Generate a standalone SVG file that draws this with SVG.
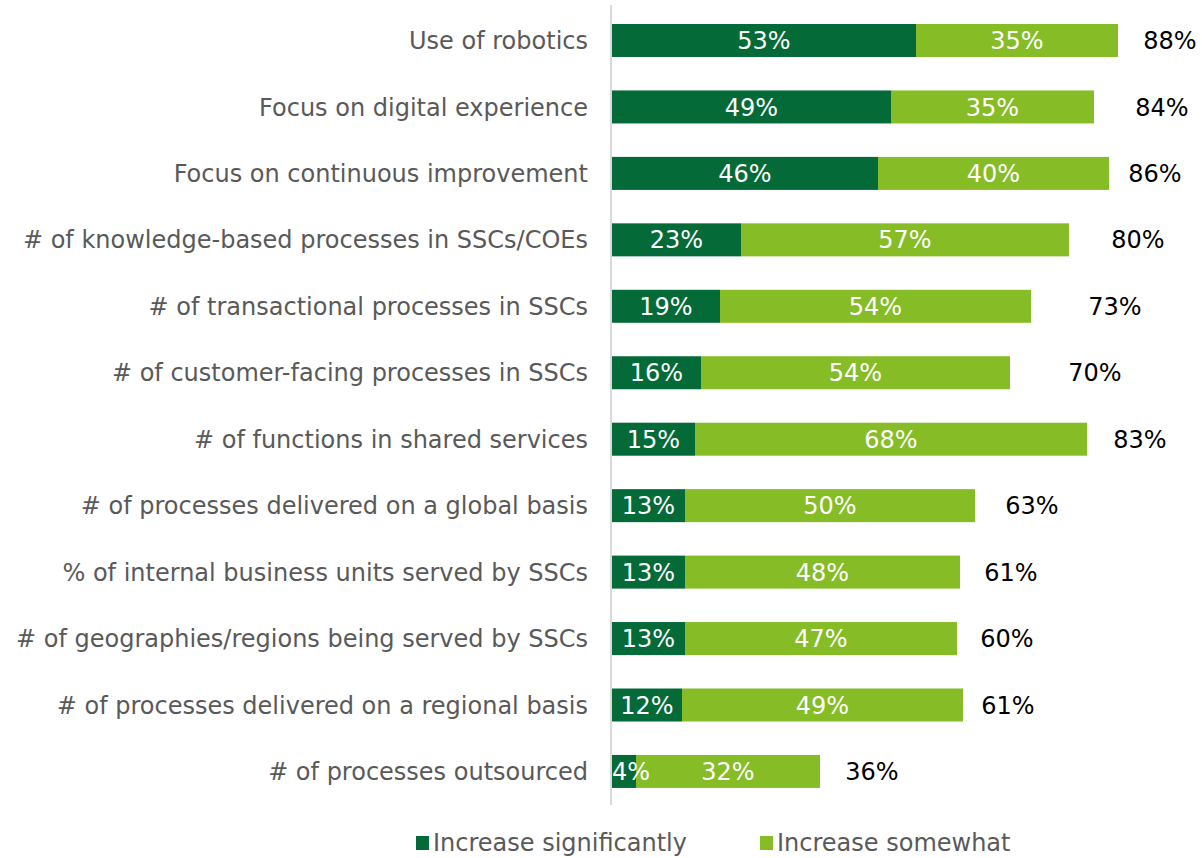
<svg xmlns="http://www.w3.org/2000/svg" width="1202" height="858" viewBox="0 0 1202 858">
<style>
.cat{font-family:"DejaVu Sans",Verdana,sans-serif;font-size:24px;fill:#595959;text-anchor:end}
.in{font-family:"DejaVu Sans",Verdana,sans-serif;font-size:24px;fill:#ffffff;text-anchor:middle}
.tot{font-family:"DejaVu Sans",Verdana,sans-serif;font-size:24px;fill:#000000;text-anchor:middle}
.leg{font-family:"DejaVu Sans",Verdana,sans-serif;font-size:24px;fill:#595959}
.d{fill:#046A38}
.l{fill:#86BC25}
</style>
<rect width="1202" height="858" fill="#ffffff"/>
<g id="axis"><line x1="611" y1="5" x2="611" y2="805" stroke="#d9d9d9" stroke-width="2"/></g>
<g id="row1"><text class="cat" x="588" y="49">Use of robotics</text><rect class="d" x="612" y="24" width="304" height="33"/><rect class="l" x="916" y="24" width="202" height="33"/><text class="in" x="764" y="49">53%</text><text class="in" x="1017" y="49">35%</text><text class="tot" x="1170" y="49">88%</text></g>
<g id="row2"><text class="cat" x="588" y="115.5">Focus on digital experience</text><rect class="d" x="612" y="90.45" width="279" height="33"/><rect class="l" x="891" y="90.45" width="203" height="33"/><text class="in" x="751.5" y="115.5">49%</text><text class="in" x="992.5" y="115.5">35%</text><text class="tot" x="1162" y="115.5">84%</text></g>
<g id="row3"><text class="cat" x="588" y="181.9">Focus on continuous improvement</text><rect class="d" x="612" y="156.9" width="266" height="33"/><rect class="l" x="878" y="156.9" width="231" height="33"/><text class="in" x="745" y="181.9">46%</text><text class="in" x="993.5" y="181.9">40%</text><text class="tot" x="1155" y="181.9">86%</text></g>
<g id="row4"><text class="cat" x="588" y="248.4"># of knowledge-based processes in SSCs/COEs</text><rect class="d" x="612" y="223.35" width="129" height="33"/><rect class="l" x="741" y="223.35" width="328" height="33"/><text class="in" x="676.5" y="248.4">23%</text><text class="in" x="905" y="248.4">57%</text><text class="tot" x="1138" y="248.4">80%</text></g>
<g id="row5"><text class="cat" x="588" y="314.8"># of transactional processes in SSCs</text><rect class="d" x="612" y="289.8" width="108" height="33"/><rect class="l" x="720" y="289.8" width="311" height="33"/><text class="in" x="666" y="314.8">19%</text><text class="in" x="875.5" y="314.8">54%</text><text class="tot" x="1115" y="314.8">73%</text></g>
<g id="row6"><text class="cat" x="588" y="381.3"># of customer-facing processes in SSCs</text><rect class="d" x="612" y="356.25" width="89" height="33"/><rect class="l" x="701" y="356.25" width="309" height="33"/><text class="in" x="656.5" y="381.3">16%</text><text class="in" x="855.5" y="381.3">54%</text><text class="tot" x="1095" y="381.3">70%</text></g>
<g id="row7"><text class="cat" x="588" y="447.7"># of functions in shared services</text><rect class="d" x="612" y="422.7" width="83" height="33"/><rect class="l" x="695" y="422.7" width="392" height="33"/><text class="in" x="653.5" y="447.7">15%</text><text class="in" x="891" y="447.7">68%</text><text class="tot" x="1140" y="447.7">83%</text></g>
<g id="row8"><text class="cat" x="588" y="514.2"># of processes delivered on a global basis</text><rect class="d" x="612" y="489.15" width="73" height="33"/><rect class="l" x="685" y="489.15" width="290" height="33"/><text class="in" x="648.5" y="514.2">13%</text><text class="in" x="830" y="514.2">50%</text><text class="tot" x="1032" y="514.2">63%</text></g>
<g id="row9"><text class="cat" x="588" y="580.6">% of internal business units served by SSCs</text><rect class="d" x="612" y="555.6" width="73" height="33"/><rect class="l" x="685" y="555.6" width="275" height="33"/><text class="in" x="648.5" y="580.6">13%</text><text class="in" x="822.5" y="580.6">48%</text><text class="tot" x="1011" y="580.6">61%</text></g>
<g id="row10"><text class="cat" x="588" y="647.1"># of geographies/regions being served by SSCs</text><rect class="d" x="612" y="622.05" width="73" height="33"/><rect class="l" x="685" y="622.05" width="272" height="33"/><text class="in" x="648.5" y="647.1">13%</text><text class="in" x="821" y="647.1">47%</text><text class="tot" x="1007" y="647.1">60%</text></g>
<g id="row11"><text class="cat" x="588" y="713.5"># of processes delivered on a regional basis</text><rect class="d" x="612" y="688.5" width="70" height="33"/><rect class="l" x="682" y="688.5" width="281" height="33"/><text class="in" x="647" y="713.5">12%</text><text class="in" x="822.5" y="713.5">49%</text><text class="tot" x="1008" y="713.5">61%</text></g>
<g id="row12"><text class="cat" x="588" y="780"># of processes outsourced</text><rect class="d" x="612" y="754.95" width="24" height="33"/><rect class="l" x="636" y="754.95" width="184" height="33"/><text class="in" x="631" y="780">4%</text><text class="in" x="728" y="780">32%</text><text class="tot" x="872" y="780">36%</text></g>
<g id="legend"><rect class="d" x="416" y="836" width="13" height="14"/><text class="leg" x="433" y="851">Increase significantly</text><rect class="l" x="760" y="836" width="13" height="14"/><text class="leg" x="777" y="851">Increase somewhat</text></g>
</svg>
